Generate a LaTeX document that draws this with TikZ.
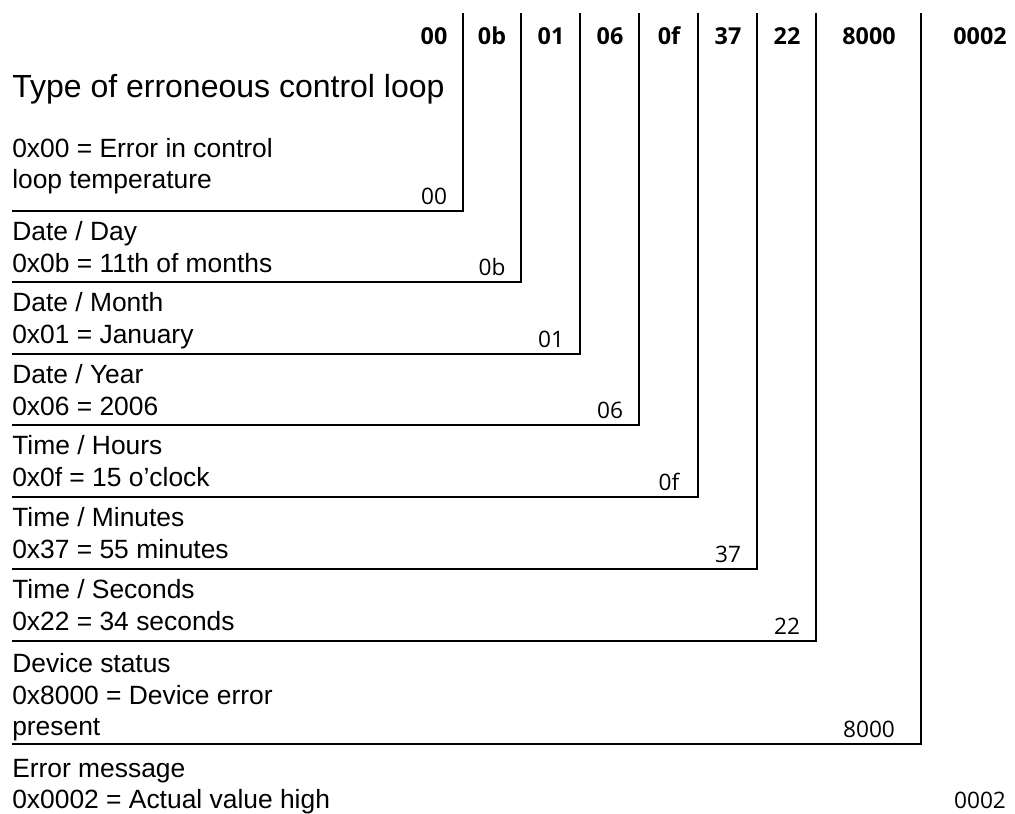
\documentclass[tikz,border=0pt]{standalone}
\usepackage{fontspec}
\setmainfont{Liberation Sans}
\newfontfamily\hexfont{Open Sans}

\tikzset{
  txt/.style={anchor=base west, inner sep=0pt, font=\fontsize{19.8}{23}\selectfont},
  titletxt/.style={anchor=base west, inner sep=0pt, font=\fontsize{24}{28}\selectfont},
  hexlbl/.style={anchor=base, inner sep=0pt, font=\hexfont\fontsize{17}{20}\selectfont},
  hexhead/.style={anchor=base, inner sep=0pt, font=\hexfont\bfseries\fontsize{17.5}{20}\selectfont},
  rule/.style={line width=1.8pt}
}

\begin{document}
\begin{tikzpicture}[x=0.75pt, y=-0.75pt]
    \useasboundingbox (0,0) rectangle (1015,814);

    % 1. Bytes of the message in the header
    \foreach \v/\cx in {00/434, 0b/492, 01/551, 06/610, 0f/669, 37/728, 22/787, 8000/869, 0002/980} {
        \node[hexhead] (head\v) at (\cx,44.5) {\v};
    }

    % 2. Brackets: horizontal rule under each field, then up to the header
    \foreach \ly/\lx in {211/463, 282/521, 354/580, 425/639, 497/698, 569/757, 641/816, 744/921} {
        \draw[rule] (12,\ly) -- (\lx,\ly) -- (\lx,13);
    }

    % 3. Byte repeated in the corner of each field
    \foreach \v/\cx/\ly in {00/434/211, 0b/492/282, 01/551/354, 06/610/425, 0f/669/497, 37/728/569, 22/787/641, 8000/869/744} {
        \node[hexlbl] (val\v) at (\cx,\ly-6.5) {\v};
    }
    \node[hexlbl] (val0002) at (980,808) {0002};

    % 4. Field descriptions
    \node[titletxt] (loop) at (12,97) {Type of erroneous control loop};
    \node[txt] (loopa) at (12,157) {0x00 = Error in control};
    \node[txt] (loopb) at (12,188) {loop temperature};

    \node[txt] (day) at (12,240) {Date / Day};
    \node[txt] (daya) at (12,272) {0x0b = 11th of months};

    \node[txt] (month) at (12,311) {Date / Month};
    \node[txt] (montha) at (12,343) {0x01 = January};

    \node[txt] (year) at (12,383) {Date / Year};
    \node[txt] (yeara) at (12,415) {0x06 = 2006};

    \node[txt] (hours) at (12,454) {Time / Hours};
    \node[txt] (hoursa) at (12,486) {0x0f = 15 o'clock};

    \node[txt] (mins) at (12,526) {Time / Minutes};
    \node[txt] (minsa) at (12,558) {0x37 = 55 minutes};

    \node[txt] (secs) at (12,598) {Time / Seconds};
    \node[txt] (secsa) at (12,630) {0x22 = 34 seconds};

    \node[txt] (status) at (12,672) {Device status};
    \node[txt] (statusa) at (12,704) {0x8000 = Device error};
    \node[txt] (statusb) at (12,735) {present};

    \node[txt] (errmsg) at (12,777) {Error message};
    \node[txt] (errmsga) at (12,808) {0x0002 = Actual value high};

\end{tikzpicture}
\end{document}
